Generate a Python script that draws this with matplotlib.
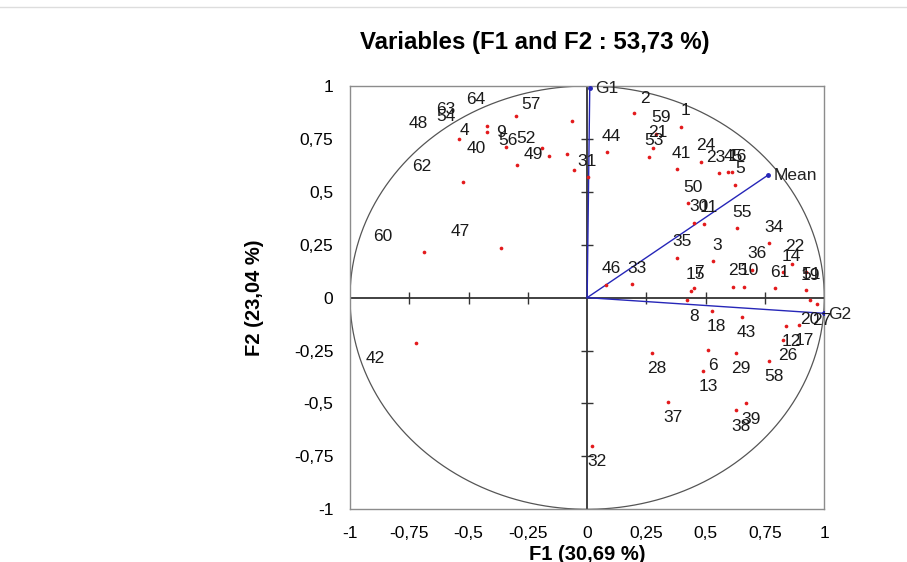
import matplotlib
matplotlib.use("Agg")
import matplotlib.pyplot as plt
import numpy as np

plt.rcParams['font.family'] = ['Liberation Sans', 'DejaVu Sans']

# ---- data ----
var_labels = [str(i) for i in range(1, 65)]
f1 = [0.394, 0.198, 0.529, -0.343, 0.624, 0.511, 0.450, 0.419, -0.191, 0.662,
      0.492, 0.838, 0.489, 0.827, 0.436, 0.611, 0.893, 0.525, 0.923, 0.940,
      0.278, 0.862, 0.557, 0.478, 0.616, 0.824, 0.968, 0.272, 0.627, 0.452,
      0.004, 0.019, 0.189, 0.768, 0.377, 0.694, 0.342, 0.626, 0.668, -0.294,
      0.377, -0.720, 0.651, 0.082, 0.594, 0.079, -0.364, -0.539, -0.055, 0.426,
      0.923, -0.084, 0.262, -0.422, 0.633, -0.160, -0.062, 0.767, 0.290, -0.688,
      0.792, -0.523, -0.422, -0.298]
f2 = [0.807, 0.871, 0.173, 0.712, 0.533, -0.247, 0.044, -0.011, 0.707, 0.052,
      0.350, -0.132, -0.346, 0.123, 0.032, 0.593, -0.128, -0.061, 0.120, -0.009,
      0.706, 0.159, 0.591, 0.641, 0.051, -0.200, -0.032, -0.260, -0.260, 0.355,
      0.572, -0.699, 0.063, 0.257, 0.188, 0.131, -0.491, -0.531, -0.499, 0.629,
      0.607, -0.213, -0.090, 0.686, 0.593, 0.060, 0.236, 0.749, 0.601, 0.446,
      0.036, 0.678, 0.666, 0.781, 0.328, 0.668, 0.835, -0.298, 0.774, 0.215,
      0.044, 0.545, 0.813, 0.860]

vec_labels = ['G1', 'G2', 'Mean']
vec_f1 = [0.011, 0.997, 0.764]
vec_f2 = [0.991, -0.074, 0.580]

tick_values = [-1, -0.75, -0.5, -0.25, 0, 0.25, 0.5, 0.75, 1]
tick_labels = ['-1', '-0,75', '-0,5', '-0,25', '0', '0,25', '0,5', '0,75', '1']

title = 'Variables (F1 and F2 : 53,73 %)'
xlabel = 'F1 (30,69 %)'
ylabel = 'F2 (23,04 %)'

# label placement (pixels), default rule plus a few overrides
label_override = {'2': (11, 15), '19': (4, -3), '14': (8, 15), '8': (8, -17),
                  '20': (0, -20), '22': (3, 17), '23': (-3, 15), '31': (-1, 15)}

# ---- figure ----
W, H = 907, 562
fig = plt.figure(figsize=(W / 100, H / 100), dpi=100)
ax = fig.add_axes([350 / W, 1 - 509.3 / H, 474.3 / W, 423.3 / H])
ax.set_xlim(-1, 1)
ax.set_ylim(-1, 1)

for sp in ax.spines.values():
    sp.set_color('#8c8c8c')
    sp.set_linewidth(1.0)

# unit circle
t = np.linspace(0, 2 * np.pi, 400)
ax.plot(np.cos(t), np.sin(t), color='#555555', lw=0.9, zorder=2)

# zero axes
ax.axhline(0, color='#333333', lw=1.3, zorder=2)
ax.axvline(0, color='#333333', lw=1.3, zorder=2)
inner = [v for v in tick_values if v not in (-1, 0, 1)]
ax.plot(inner, [0] * len(inner), ls='none', marker='|', ms=8, mew=1.0, color='#333333', zorder=2)
ax.plot([0] * len(inner), inner, ls='none', marker='_', ms=8, mew=1.0, color='#333333', zorder=2)

# ticks on frame
ax.set_xticks(tick_values)
ax.set_xticklabels(tick_labels)
ax.set_yticks(tick_values)
ax.set_yticklabels(tick_labels)
ax.tick_params(axis='both', length=0, labelsize=12.5, colors='black')
ax.tick_params(axis='x', pad=12)
ax.tick_params(axis='y', pad=12)

# vectors
for lab, vx, vy in zip(vec_labels, vec_f1, vec_f2):
    ax.plot([0, vx], [0, vy], color='#2626b8', lw=1.0, zorder=3)
    ax.plot([vx], [vy], ls='none', marker='o', ms=2.5, color='#2626b8', zorder=3)
    ax.annotate(lab, (vx, vy), xytext=(5, -1), textcoords='offset pixels',
                ha='left', va='center', fontsize=12.5, color='#222222',
                annotation_clip=False, zorder=5)

# variable points
ax.scatter(f1, f2, s=7, color='#e31a1c', zorder=4, linewidths=0)
for lab, x, y in zip(var_labels, f1, f2):
    if lab in label_override:
        dx, dy = label_override[lab]
    else:
        dx = 5 if x >= 0 else -41
        dy = 16 if y >= 0 else -16
    ax.annotate(lab, (x, y), xytext=(dx, dy), textcoords='offset pixels',
                ha='center', va='center', fontsize=12.5, color='#1a1a1a', zorder=5)

# titles
fig.text(535 / W, 1 - 42 / H, title, ha='center', va='center',
         fontsize=17.3, fontweight='bold')
fig.text(587 / W, 1 - 555 / H, xlabel, ha='center', va='center',
         fontsize=14.5, fontweight='bold')
fig.text(255 / W, 1 - 298 / H, ylabel, ha='center', va='center',
         fontsize=14.5, fontweight='bold', rotation=90)

# faint page border line at top
fig.add_artist(plt.Line2D([0, 1], [1 - 7 / H, 1 - 7 / H], transform=fig.transFigure,
                          color='#dddddd', lw=1))

fig.savefig('out.png', dpi=100)
